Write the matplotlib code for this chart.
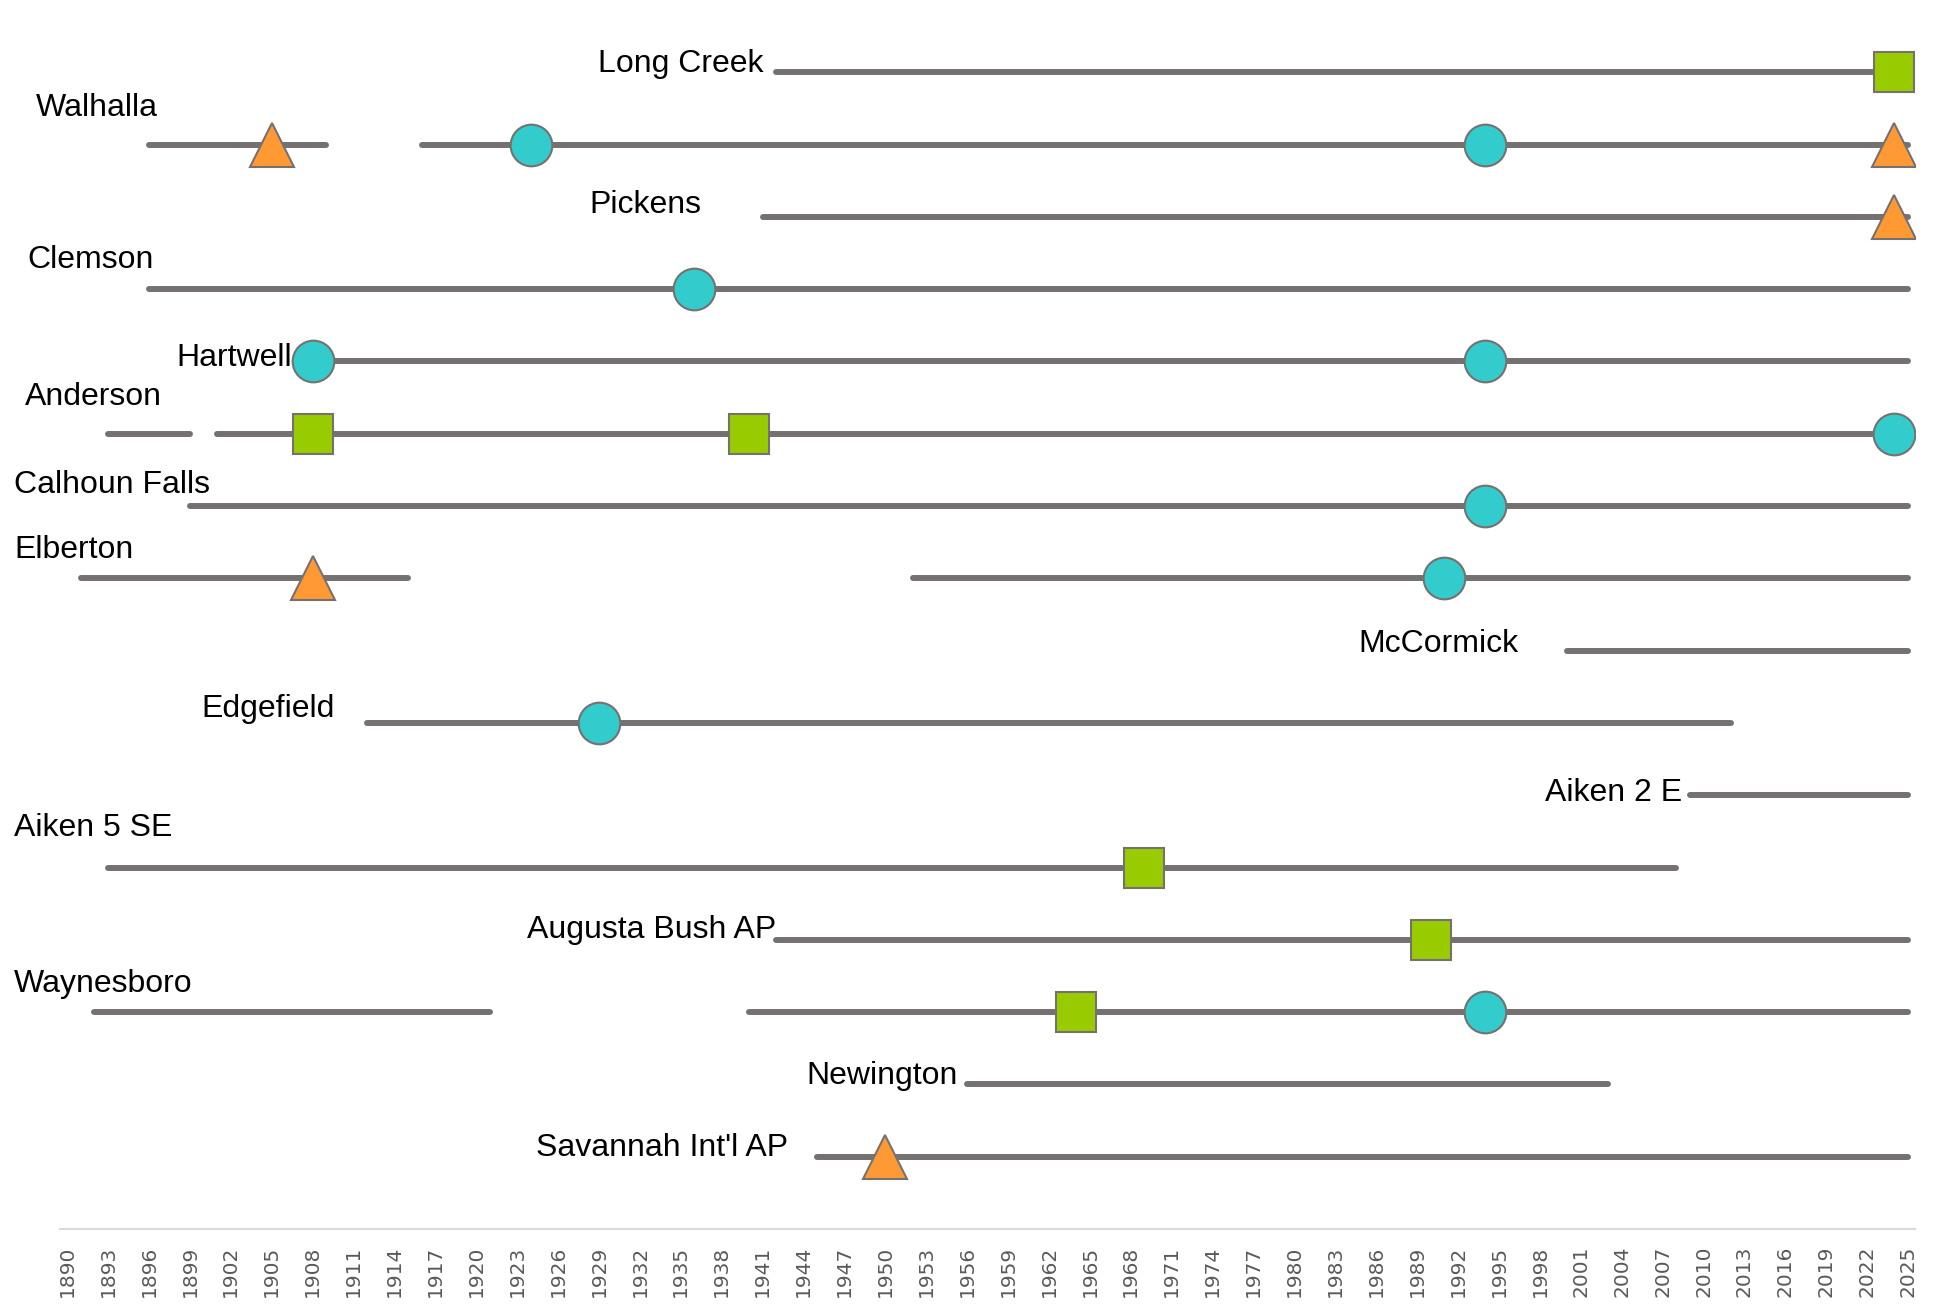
import matplotlib
matplotlib.use('Agg')
import matplotlib.pyplot as plt

# Station names, top to bottom
stations = ['Long Creek', 'Walhalla', 'Pickens', 'Clemson', 'Hartwell', 'Anderson',
            'Calhoun Falls', 'Elberton', 'McCormick', 'Edgefield', 'Aiken 2 E',
            'Aiken 5 SE', 'Augusta Bush AP', 'Waynesboro', 'Newington', "Savannah Int'l AP"]

# Periods of record (start year, end year)
segments = [
    [(1942, 2024)],
    [(1896, 1909), (1916, 2025)],
    [(1941, 2025)],
    [(1896, 2025)],
    [(1908, 2025)],
    [(1893, 1899), (1901, 2025)],
    [(1899, 2025)],
    [(1891, 1915), (1952, 2025)],
    [(2000, 2025)],
    [(1912, 2012)],
    [(2009, 2025)],
    [(1893, 2008)],
    [(1942, 2025)],
    [(1892, 1921), (1940, 2025)],
    [(1956, 2003)],
    [(1945, 2025)],
]

# Event years per marker type
circle_years = [[], [1924, 1994], [], [1936], [1908, 1994], [2024], [1994], [1991],
                [], [1929], [], [], [], [1994], [], []]
triangle_years = [[], [1905, 2024], [2024], [], [], [], [], [1908],
                  [], [], [], [], [], [], [], [1950]]
square_years = [[2024], [], [], [], [], [1908, 1940], [], [],
                [], [], [], [1969], [1990], [1964], [], []]

years = list(range(1890, 2026, 3))

# label placement (x in years, y offset in rows, alignment)
label_x = [1941.1, 1887.7, 1936.5, 1887.1, 1906.5, 1886.9, 1886.1, 1886.1,
           1996.4, 1909.6, 2008.4, 1886.1, 1942.0, 1886.1, 1955.3, 1942.9]
label_dy = [0.12, 0.51, 0.17, 0.41, 0.05, 0.51, 0.29, 0.39,
            0.09, 0.19, 0.03, 0.55, 0.14, 0.39, 0.12, 0.12]
label_ha = ['right', 'left', 'right', 'left', 'right', 'left', 'left', 'left',
            'right', 'right', 'right', 'left', 'right', 'left', 'right', 'right']

line_col = '#767171'

fig = plt.figure(figsize=(19.46, 13.11), dpi=100)
ax = fig.add_axes([0.031, 0.0625, 0.953, 0.9375])

n = len(stations)
for i, name in enumerate(stations):
    y = n - i
    for s, e in segments[i]:
        ax.plot([s, e], [y, y], color=line_col, lw=4.3, solid_capstyle='round', zorder=2)
    ax.plot(circle_years[i], [y] * len(circle_years[i]), 'o', ms=30, mfc='#33CCCC',
            mec=line_col, mew=1.5, zorder=3, ls='none')
    ax.plot(triangle_years[i], [y] * len(triangle_years[i]), '^', ms=31, mfc='#FF9933',
            mec=line_col, mew=1.5, zorder=3, ls='none')
    ax.plot(square_years[i], [y] * len(square_years[i]), 's', ms=29, mfc='#99CC00',
            mec=line_col, mew=1.5, zorder=3, ls='none')
    ax.text(label_x[i], y + label_dy[i], name, ha=label_ha[i], va='center',
            fontsize=23, family='Liberation Sans', color='black')

ax.set_xlim(1889.5, 2025.5)
ax.set_ylim(0, 17.0)
ax.set_xticks(years)
ax.set_xticklabels([str(v) for v in years], rotation=90, fontsize=14.5,
                   color='#595959', family='DejaVu Sans')
ax.tick_params(axis='x', length=0, pad=12)
ax.set_yticks([])
for side in ['top', 'right', 'left']:
    ax.spines[side].set_visible(False)
ax.spines['bottom'].set_color('#D9D9D9')
ax.spines['bottom'].set_linewidth(1.5)

fig.savefig('out.png', dpi=100)
